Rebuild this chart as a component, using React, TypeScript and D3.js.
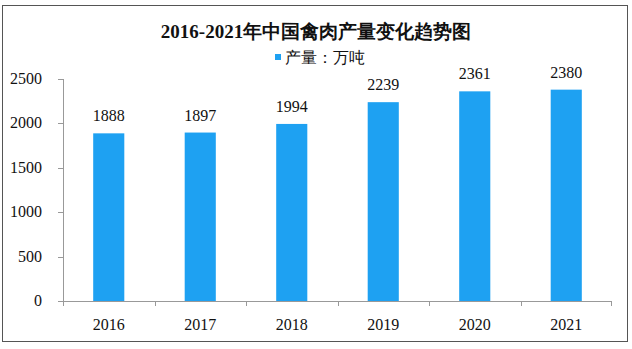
import React from "react";
import * as d3 from "d3";

const categories = ["2016", "2017", "2018", "2019", "2020", "2021"];
const values = [1888, 1897, 1994, 2239, 2361, 2380];
const yTicks = [0, 500, 1000, 1500, 2000, 2500];
const title = "2016-2021年中国禽肉产量变化趋势图";
const legendLabel = "产量：万吨";

export default function App() {
  const W = 632, H = 349;
  const left = 63, right = 612, top = 79, bottom = 301;
  const x = d3.scaleBand<string>().domain(categories).range([left, right]).paddingInner(0.66).paddingOuter(0.33);
  const xb = d3.scaleBand<string>().domain(categories).range([left, right]);
  const y = d3.scaleLinear().domain([0, 2500]).range([bottom, top]);
  const font = "'Liberation Serif', 'DejaVu Serif', serif";
  const color = "#1ea1f2";
  return (
    <svg width={W} height={H} style={{ position: "absolute", left: 0, top: 0 }}>
      <rect x={0} y={0} width={W} height={H} fill="#fff" />
      <rect x={2.5} y={5.5} width={625} height={336} fill="none" stroke="#555" strokeWidth={1} />
      <text x={316} y={38} textAnchor="middle" fontFamily={font} fontWeight="bold" fontSize={19} fill="#111">{title}</text>
      <rect x={275} y={54} width={6} height={6} fill={color} />
      <text x={285} y={63} fontFamily={font} fontSize={16} fill="#111">{legendLabel}</text>
      <line x1={left + 0.5} x2={left + 0.5} y1={top} y2={bottom} stroke="#999" />
      <line x1={left} x2={right} y1={bottom + 0.5} y2={bottom + 0.5} stroke="#999" />
      {yTicks.map((t) => (
        <g key={t}>
          <line x1={left - 5} x2={left} y1={Math.round(y(t)) + 0.5} y2={Math.round(y(t)) + 0.5} stroke="#999" />
          <text x={42} y={y(t) + 5} textAnchor="end" fontFamily={font} fontSize={16} fill="#111">{t}</text>
        </g>
      ))}
      {categories.map((c) => (
        <line key={"t" + c} x1={Math.round(xb(c)!) + 0.5} x2={Math.round(xb(c)!) + 0.5} y1={bottom} y2={bottom + 5} stroke="#999" />
      ))}
      <line x1={right - 0.5} x2={right - 0.5} y1={bottom} y2={bottom + 5} stroke="#999" />
      {categories.map((c, i) => (
        <g key={c}>
          <rect x={x(c)} y={y(values[i])} width={x.bandwidth()} height={bottom - y(values[i])} fill={color} />
          <text x={x(c)! + x.bandwidth() / 2} y={y(values[i]) - 12} textAnchor="middle" fontFamily={font} fontSize={16} fill="#111">{values[i]}</text>
          <text x={xb(c)! + xb.bandwidth() / 2} y={330} textAnchor="middle" fontFamily={font} fontSize={16} fill="#111">{c}</text>
        </g>
      ))}
    </svg>
  );
}
